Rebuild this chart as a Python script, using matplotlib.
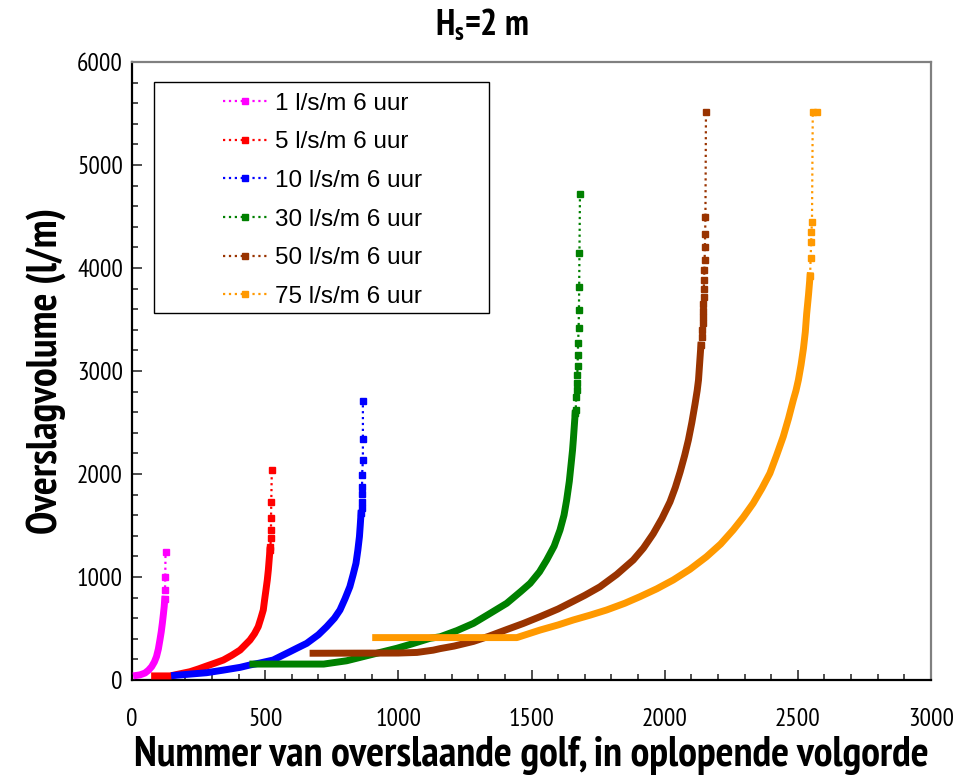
import matplotlib
matplotlib.use("Agg")
import matplotlib.pyplot as plt
from matplotlib.lines import Line2D
from matplotlib.patches import Rectangle
from matplotlib.ticker import MultipleLocator
from matplotlib import font_manager

# --- data: overtopping volumes per wave, sorted ascending -------------------
labels = ["1 l/s/m 6 uur", "5 l/s/m 6 uur", "10 l/s/m 6 uur",
          "30 l/s/m 6 uur", "50 l/s/m 6 uur", "75 l/s/m 6 uur"]
colors = ["#FF00FF", "#FF0000", "#0000FF", "#008000", "#993300", "#FF9900"]

# dense part of each distribution
golf_1 = [17, 30, 49, 62, 74, 84, 92, 99, 105, 110, 114, 118, 121, 123]
vol_1 = [45, 50, 68, 95, 130, 175, 227, 300, 390, 470, 550, 640, 713, 784]
golf_5 = [85, 143, 218, 250, 280, 310, 343, 375, 406, 443, 460, 474, 484,
          493, 498, 503, 508, 512, 515, 518]
vol_5 = [40, 40, 81, 108, 136, 163, 194, 240, 291, 388, 450, 518, 600,
         680, 780, 874, 970, 1068, 1165, 1262]
golf_10 = [160, 220, 280, 340, 406, 443, 480, 530, 568, 593, 620, 656, 700,
           731, 760, 781, 800, 818, 830, 841, 848, 854, 857, 860]
vol_10 = [45, 58, 71, 95, 123, 146, 165, 194, 243, 275, 310, 356, 440,
          518, 600, 680, 790, 906, 1020, 1133, 1260, 1392, 1500, 1618]
golf_30 = [454, 720, 806, 868, 994, 1050, 1119, 1157, 1220, 1282, 1340,
           1407, 1460, 1495, 1530, 1557, 1585, 1607, 1622, 1632, 1642,
           1649, 1654, 1657, 1664]
vol_30 = [155, 155, 187, 227, 308, 350, 405, 420, 480, 550, 640,
          745, 860, 939, 1050, 1165, 1300, 1456, 1600, 1748, 1930,
          2104, 2230, 2330, 2589]
golf_50 = [680, 1000, 1070, 1131, 1157, 1210, 1282, 1340, 1407, 1470,
           1532, 1600, 1657, 1700, 1757, 1820, 1882, 1920, 1957, 1990,
           2020, 2040, 2058, 2075, 2089, 2102, 2114, 2122, 2127, 2136]
vol_50 = [260, 262, 268, 290, 305, 330, 375, 425, 490, 550,
          615, 690, 765, 822, 905, 1025, 1165, 1280, 1420, 1570,
          1730, 1870, 2020, 2180, 2330, 2500, 2680, 2810, 2913, 3250]
golf_75 = [915, 1445, 1532, 1600, 1657, 1720, 1782, 1850, 1907, 1970,
           2032, 2095, 2157, 2210, 2257, 2295, 2332, 2365, 2395, 2420,
           2445, 2465, 2483, 2493, 2502, 2512, 2521, 2528, 2533, 2540, 2546]
vol_75 = [412, 412, 485, 535, 583, 630, 680, 745, 809, 885,
          971, 1075, 1197, 1320, 1456, 1580, 1715, 1860, 2007, 2180,
          2362, 2540, 2719, 2810, 2913, 3060, 3219, 3380, 3553, 3740, 3925]

# sparse upper tail (largest waves)
top_golf_1 = [123, 124, 125, 126]
top_vol_1 = [784, 874, 1004, 1240]
top_golf_5 = [518, 520, 521, 522, 522, 523, 525]
top_vol_5 = [1262, 1294, 1376, 1456, 1570, 1731, 2035]
top_golf_10 = [860, 862, 862, 863, 864, 864, 867, 867, 867]
top_vol_10 = [1618, 1667, 1731, 1803, 1877, 1990, 2136, 2343, 2705]
top_golf_30 = [1664, 1666, 1668, 1670, 1671, 1672, 1673, 1674, 1675, 1677,
               1678, 1679, 1680, 1682]
top_vol_30 = [2589, 2621, 2751, 2816, 2880, 2959, 3053, 3157, 3273, 3413,
              3588, 3818, 4142, 4720]
top_golf_50 = [2136, 2141, 2141, 2142, 2143, 2144, 2145, 2146, 2147, 2148,
               2149, 2150, 2151, 2152, 2153, 2155]
top_vol_50 = [3250, 3333, 3398, 3463, 3525, 3583, 3648, 3722, 3800, 3881,
              3978, 4081, 4207, 4333, 4495, 5512]
top_golf_75 = [2546, 2548, 2550, 2551, 2553, 2556, 2572]
top_vol_75 = [3925, 4100, 4250, 4350, 4447, 5515, 5515]

series = [
    (golf_1, vol_1, top_golf_1, top_vol_1),
    (golf_5, vol_5, top_golf_5, top_vol_5),
    (golf_10, vol_10, top_golf_10, top_vol_10),
    (golf_30, vol_30, top_golf_30, top_vol_30),
    (golf_50, vol_50, top_golf_50, top_vol_50),
    (golf_75, vol_75, top_golf_75, top_vol_75),
]

x_ticks = [0, 500, 1000, 1500, 2000, 2500, 3000]
y_ticks = [0, 1000, 2000, 3000, 4000, 5000, 6000]

# --- fonts: a narrow sans for axis texts, Arial-like for the legend ----------
entries = font_manager.fontManager.ttflist
preferred = ["Arial Narrow", "Liberation Sans Narrow", "Archivo Narrow",
             "PT Sans Narrow", "Roboto Condensed", "Sofia Sans Condensed",
             "Encode Sans Condensed", "Asap Condensed",
             "Barlow Semi Condensed", "Fira Sans Condensed"]
NARROW = "Liberation Sans"
for cand in preferred:
    faces = [f for f in entries if f.name == cand and f.style == "normal"]
    weights = {int(f.weight) if str(f.weight).isdigit() else 400 for f in faces}
    if faces and any(w >= 600 for w in weights) and any(w <= 500 for w in weights):
        NARROW = cand
        break

plt.rcParams["font.family"] = [NARROW, "Liberation Sans", "DejaVu Sans"]
plt.rcParams["mathtext.fontset"] = "custom"
plt.rcParams["mathtext.rm"] = NARROW
plt.rcParams["mathtext.bf"] = NARROW + ":bold"

# --- figure -----------------------------------------------------------------
fig = plt.figure(figsize=(9.64, 7.77), dpi=100)
ax = fig.add_axes([0.1369, 0.1248, 0.8289, 0.7954])

for (gx, gy, tx, ty), col in zip(series, colors):
    ax.plot(gx, gy, color=col, lw=5.0, solid_capstyle="projecting",
            solid_joinstyle="round", zorder=3)
    ax.plot(tx, ty, color=col, lw=1.6, ls=":", marker="s", ms=4.2,
            mec=col, mfc=col, zorder=3)

ax.set_xlim(0, 3000)
ax.set_ylim(0, 6000)
ax.set_xticks(x_ticks)
ax.set_yticks(y_ticks)
ax.xaxis.set_minor_locator(MultipleLocator(100))
ax.yaxis.set_minor_locator(MultipleLocator(200))
ax.tick_params(which="both", direction="in", color="#303030", width=1.2)
ax.tick_params(which="major", length=7)
ax.tick_params(which="minor", length=4)
ax.tick_params(axis="x", which="major", pad=20, labelsize=18)
ax.tick_params(axis="y", which="major", pad=6.5, labelsize=18)

for side in ("left", "bottom"):
    ax.spines[side].set_color("black")
    ax.spines[side].set_linewidth(1.6)
for side in ("top", "right"):
    ax.spines[side].set_color("#808080")
    ax.spines[side].set_linewidth(1.6)

xlab = ax.set_xlabel("Nummer van overslaande golf, in oplopende volgorde",
                     fontsize=26, fontweight="bold", labelpad=4)
ylab = ax.set_ylabel("Overslagvolume (l/m)", fontsize=26, fontweight="bold",
                     labelpad=8)
title = fig.text(0.5, 0.968, r"$\mathbf{H_s}$=2 m", ha="center", va="center",
                 fontsize=22, fontweight="bold")

# legend: frame drawn as its own rectangle, entries placed inside
ax.add_patch(Rectangle((0.0275, 0.5939), 0.4193, 0.3737, transform=ax.transAxes,
                       fill=True, facecolor="white", edgecolor="black",
                       lw=1.0, zorder=4))
handles = [Line2D([], [], color=c, lw=1.6, ls=":", marker="s", ms=4.2,
                  mec=c, mfc=c) for c in colors]
leg = ax.legend(handles, labels, loc="upper left", bbox_to_anchor=(0.1139, 0.950),
                frameon=False, borderpad=0, borderaxespad=0, handlelength=1.85,
                handletextpad=0.3, labelspacing=0.68,
                prop={"family": ["Liberation Sans", "DejaVu Sans"], "size": 17.5})
leg.set_zorder(5)

# scale the narrow-font texts to their intended printed widths
fig.canvas.draw()
renderer = fig.canvas.get_renderer()


def fitted(txt, target_px, use_height=False):
    bb = txt.get_window_extent(renderer)
    cur = bb.height if use_height else bb.width
    return txt.get_fontsize() * target_px / cur


tick_size = fitted(ax.get_yticklabels()[-1], 46)
ax.tick_params(axis="both", which="major", labelsize=tick_size)
xlab.set_fontsize(fitted(xlab, 796))
ylab.set_fontsize(fitted(ylab, 326, use_height=True))
title.set_fontsize(fitted(title, 94))

fig.savefig("out.png", dpi=100, facecolor="white")
